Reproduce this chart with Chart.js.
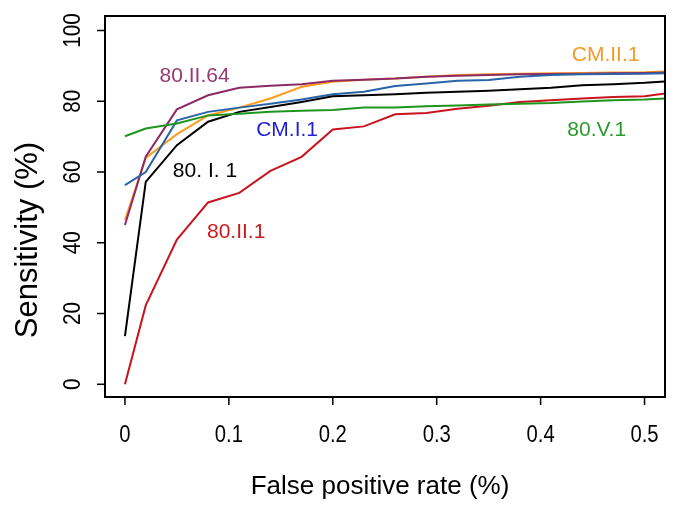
<!DOCTYPE html>
<html>
<head>
<meta charset="utf-8">
<script src="https://cdn.jsdelivr.net/npm/chart.js@4.4.1/dist/chart.umd.min.js"></script>
<style>
  html, body { margin: 0; padding: 0; background: #fff; }
  canvas { display: block; }
</style>
</head>
<body>
<canvas id="rocChart" width="685" height="510"></canvas>
<script>
// false positive rate at each cut-off (shared by all curves)
const fpr = [0, 0.02, 0.05, 0.08, 0.11, 0.14, 0.17, 0.20, 0.23, 0.26, 0.29, 0.32, 0.35, 0.38, 0.41, 0.44, 0.47, 0.50, 0.53];

// sensitivity (%) per model
const sens80II1 = [0, 22.3, 40.9, 51.4, 54.1, 60.3, 64.3, 72.0, 72.9, 76.3, 76.7, 77.9, 78.7, 79.8, 80.3, 80.8, 81.2, 81.4, 82.6];
const sens80I1 = [13.6, 57.2, 67.6, 74.2, 77.0, 78.4, 79.8, 81.4, 81.7, 82.0, 82.4, 82.7, 83.0, 83.4, 83.8, 84.5, 84.8, 85.2, 85.8];
const sensCMI1 = [56.3, 60.0, 74.6, 77.0, 78.2, 79.3, 80.5, 82.0, 82.7, 84.3, 85.0, 85.8, 86.0, 86.9, 87.4, 87.6, 87.7, 87.8, 88.0];
const sensCMII1 = [46.4, 64.0, 70.7, 76.0, 78.2, 80.8, 84.1, 85.5, 86.1, 86.4, 86.9, 87.4, 87.6, 87.8, 87.9, 88.0, 88.1, 88.2, 88.5];
const sens80II64 = [45.0, 64.3, 77.7, 81.7, 83.8, 84.4, 84.8, 85.8, 86.1, 86.4, 86.9, 87.2, 87.4, 87.6, 87.7, 87.8, 87.9, 88.0, 88.2];
const sens80V1 = [70.1, 72.3, 73.7, 76.0, 76.5, 77.0, 77.3, 77.5, 78.2, 78.2, 78.6, 78.8, 79.1, 79.3, 79.5, 79.9, 80.3, 80.5, 80.9];

// axis ticks
const xTicks = [0, 0.1, 0.2, 0.3, 0.4, 0.5];
const xTickLabels = ["0", "0.1", "0.2", "0.3", "0.4", "0.5"];
const yTicks = [0, 20, 40, 60, 80, 100];
const yTickLabels = ["0", "20", "40", "60", "80", "100"];

// curve names written next to the lines, with their anchor in data units
const labelNames = ["80.II.64", "CM.I.1", "80. I. 1", "80.II.1", "CM.II.1", "80.V.1"];
const labelX = [0.067, 0.156, 0.077, 0.107, 0.4625, 0.454];
const labelY = [87.1, 71.8, 60.2, 43.0, 93.0, 71.8];
const labelColors = ["#983a72", "#1f1fd6", "#000000", "#cc1a1a", "#f59a28", "#2a9a2a"];

const FONT = "Liberation Sans, Arial, sans-serif";

function toPoints(ys) {
  return fpr.map((x, i) => ({ x: x, y: ys[i] }));
}

function line(ys, color) {
  return {
    data: toPoints(ys),
    borderColor: color,
    borderWidth: 2,
    pointRadius: 0,
    tension: 0,
    fill: false
  };
}

// text squeezed along its own direction (tick labels look condensed)
function narrowText(ctx, text, x, y, angle, squeeze) {
  ctx.save();
  ctx.translate(x, y);
  ctx.rotate(angle);
  ctx.scale(squeeze, 1);
  ctx.fillText(text, 0, 0);
  ctx.restore();
}

// draws the R-style box, ticks, labels and titles
const axesPlugin = {
  id: "rAxes",
  afterDraw(chart) {
    const ctx = chart.ctx;
    const area = chart.chartArea;
    const xs = chart.scales.x;
    const ys = chart.scales.y;
    ctx.save();
    ctx.strokeStyle = "#000";
    ctx.lineWidth = 2;
    ctx.strokeRect(area.left, area.top, area.right - area.left, area.bottom - area.top);

    // x ticks
    ctx.lineWidth = 1.5;
    ctx.fillStyle = "#000";
    ctx.font = "23px " + FONT;
    ctx.textAlign = "center";
    ctx.textBaseline = "middle";
    xTicks.forEach((v, i) => {
      const px = xs.getPixelForValue(v);
      ctx.beginPath();
      ctx.moveTo(px, area.bottom);
      ctx.lineTo(px, area.bottom + 8);
      ctx.stroke();
      narrowText(ctx, xTickLabels[i], px, 436, 0, 0.88);
    });

    // y ticks, labels rotated like R's default
    yTicks.forEach((v, i) => {
      const py = ys.getPixelForValue(v);
      ctx.beginPath();
      ctx.moveTo(area.left - 8, py);
      ctx.lineTo(area.left, py);
      ctx.stroke();
      narrowText(ctx, yTickLabels[i], 74, py, -Math.PI / 2, 0.9);
    });

    // axis titles
    ctx.font = "26px " + FONT;
    ctx.fillText("False positive rate (%)", 380, 487);
    ctx.font = "31px " + FONT;
    narrowText(ctx, "Sensitivity (%)", 28, 240, -Math.PI / 2, 1);

    // curve names
    ctx.font = "21px " + FONT;
    labelNames.forEach((name, i) => {
      ctx.fillStyle = labelColors[i];
      ctx.fillText(name, xs.getPixelForValue(labelX[i]), ys.getPixelForValue(labelY[i]));
    });
    ctx.restore();
  }
};

window.addEventListener("DOMContentLoaded", () => {
  new Chart(document.getElementById("rocChart"), {
    type: "line",
    data: {
      datasets: [
        line(sens80V1, "#1e961e"),
        line(sens80II1, "#c8141e"),
        line(sens80I1, "#000000"),
        line(sensCMI1, "#2a64a8"),
        line(sens80II64, "#8c2a68"),
        line(sensCMII1, "#ff9c1e")
      ]
    },
    options: {
      responsive: false,
      devicePixelRatio: 1,
      animation: false,
      layout: { padding: { left: 105, top: 16, right: 20, bottom: 113 } },
      scales: {
        x: { type: "linear", display: false, min: -0.0192, max: 0.5197 },
        y: { type: "linear", display: false, min: -3.6, max: 104.1 }
      },
      plugins: {
        legend: { display: false },
        tooltip: { enabled: false }
      }
    },
    plugins: [axesPlugin]
  });
});
</script>
</body>
</html>
